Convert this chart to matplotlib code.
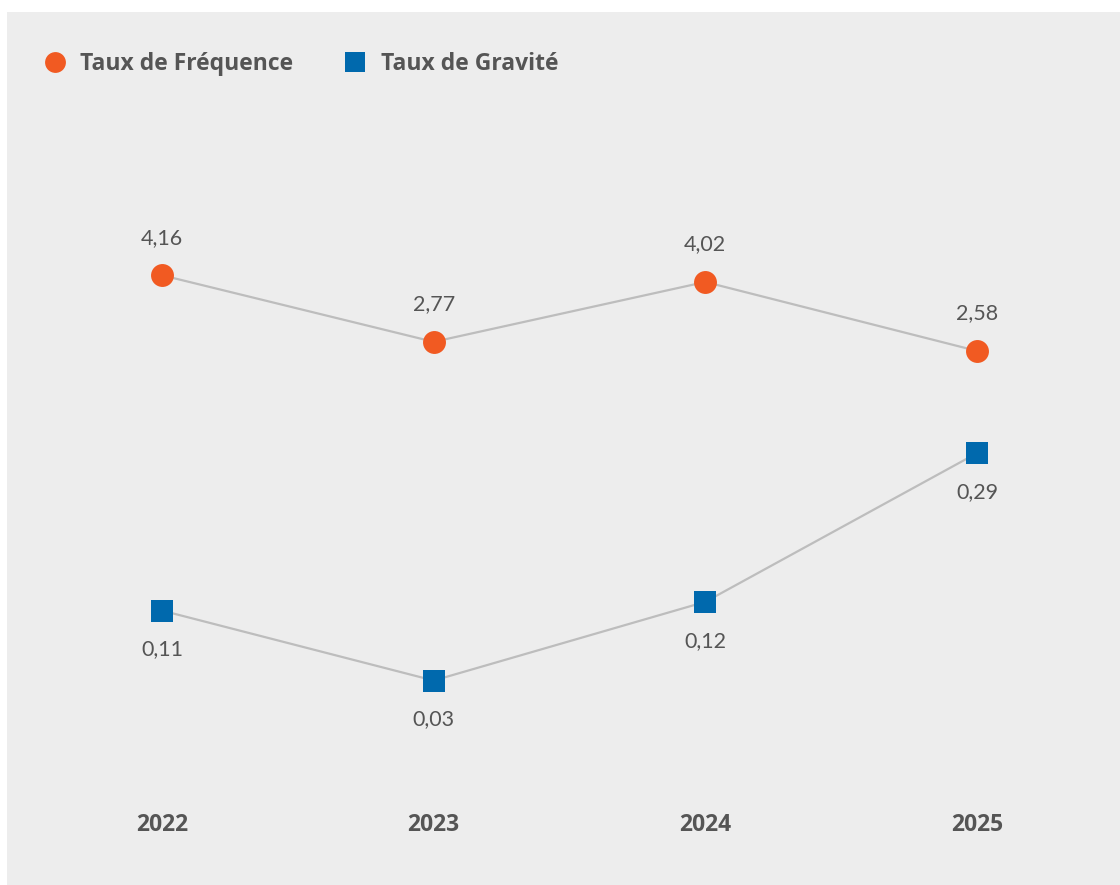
import matplotlib.pyplot as plt
from matplotlib.lines import Line2D
from matplotlib.patches import Rectangle

plt.rcParams['font.family'] = ['Lato', 'DejaVu Sans']

# Données
annees = ['2022', '2023', '2024', '2025']
taux_frequence = [4.16, 2.77, 4.02, 2.58]
taux_gravite = [0.11, 0.03, 0.12, 0.29]

ORANGE = '#F15A22'
BLEU = '#0069AD'
LIGNE = '#BDBDBD'
TEXTE = '#555555'
FOND = '#EDEDED'


def fmt(v):
    return f"{v:.2f}".replace('.', ',')


fig = plt.figure(figsize=(11.2, 8.85), dpi=100)
fig.patch.set_facecolor('white')
fig.patches.append(Rectangle((7 / 1120, 0), 1 - 7 / 1120, 1 - 12 / 885,
                             transform=fig.transFigure, facecolor=FOND,
                             edgecolor='none', zorder=0))

ax = fig.add_axes([30 / 1120, 105 / 885, 1070 / 1120, 680 / 885])
ax2 = ax.twinx()
ax.set_zorder(1)
ax2.set_zorder(2)
for a in (ax, ax2):
    a.set_facecolor('none')
    for s in a.spines.values():
        s.set_visible(False)
    a.tick_params(left=False, right=False, labelleft=False, labelright=False)

x = list(range(len(annees)))

# Taux de fréquence (axe gauche)
ax.plot(x, taux_frequence, color=LIGNE, lw=1.6, zorder=2)
ax.plot(x, taux_frequence, 'o', color=ORANGE, ms=16.5, mew=0, zorder=3)
for xi, v in zip(x, taux_frequence):
    ax.annotate(fmt(v), (xi, v), xytext=(0, 27), textcoords='offset points',
                ha='center', va='center', fontsize=15.5, color=TEXTE)
ax.set_ylim(-6.38, 7.82)

# Taux de gravité (axe droit)
ax2.plot(x, taux_gravite, color=LIGNE, lw=1.6, zorder=2)
ax2.plot(x, taux_gravite, 's', color=BLEU, ms=16, mew=0, zorder=3)
for xi, v in zip(x, taux_gravite):
    ax2.annotate(fmt(v), (xi, v), xytext=(0, -28), textcoords='offset points',
                 ha='center', va='center', fontsize=15.5, color=TEXTE)
ax2.set_ylim(-0.0837, 0.6938)

ax.set_xlim(-0.486, 3.453)
ax.set_xticks(x)
ax.set_xticklabels(annees, fontsize=16.5, fontweight='bold', color=TEXTE,
                   family=['Open Sans', 'DejaVu Sans'])
ax.tick_params(axis='x', length=0, pad=24)

handles = [
    Line2D([], [], marker='o', ls='none', color=ORANGE, ms=15, mew=0),
    Line2D([], [], marker='s', ls='none', color=BLEU, ms=14, mew=0),
]
leg = fig.legend(handles, ['Taux de Fréquence', 'Taux de Gravité'],
                 loc='center left', bbox_to_anchor=(23 / 1120, 1 - 64 / 885),
                 ncol=2, frameon=False, handlelength=1.0, handletextpad=0.6,
                 columnspacing=2.2,
                 prop={'family': ['Open Sans', 'DejaVu Sans'], 'weight': 'bold', 'size': 16.5})
for t in leg.get_texts():
    t.set_color(TEXTE)

fig.savefig('out.png', dpi=100)
